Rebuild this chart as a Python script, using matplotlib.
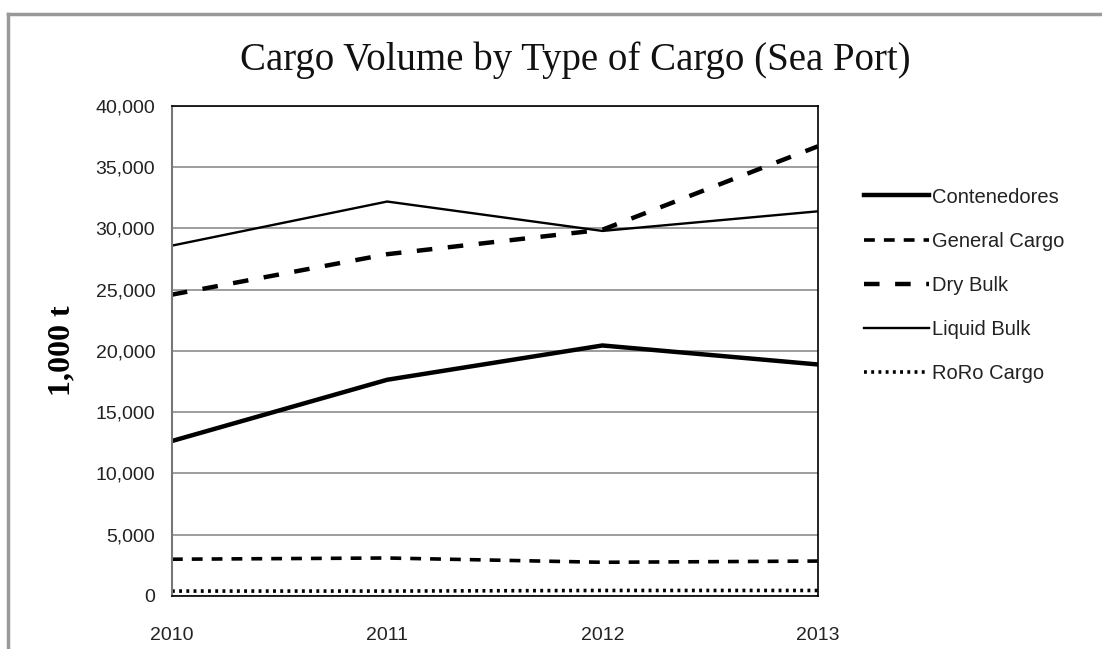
import matplotlib
matplotlib.use("Agg")
import matplotlib.pyplot as plt
from matplotlib.lines import Line2D
from matplotlib.ticker import FuncFormatter

years = [2010, 2011, 2012, 2013]
contenedores = [12650, 17650, 20450, 18900]
general_cargo = [3000, 3100, 2750, 2850]
dry_bulk = [24600, 27900, 29900, 36700]
liquid_bulk = [28600, 32200, 29800, 31400]
roro_cargo = [400, 400, 450, 450]

plt.rcParams['font.family'] = ['Liberation Sans', 'DejaVu Sans']

fig = plt.figure(figsize=(11.02, 6.49), dpi=100)
ax = fig.add_axes([0.156, 0.0817, 0.586, 0.755])

ax.plot(years, contenedores, color='black', lw=3.2, label='Contenedores')
ax.plot(years, general_cargo, color='black', lw=2.6, dashes=(3, 2.5), label='General Cargo')
ax.plot(years, dry_bulk, color='black', lw=3.2, dashes=(3.5, 3.5), label='Dry Bulk')
ax.plot(years, liquid_bulk, color='black', lw=1.7, label='Liquid Bulk')
ax.plot(years, roro_cargo, color='black', lw=2.6, dashes=(0.8, 1.2), label='RoRo Cargo')

ax.set_xlim(2010, 2013)
ax.set_ylim(0, 40000)
ax.set_xticks(years)
ax.set_yticks(range(0, 40001, 5000))
ax.yaxis.set_major_formatter(FuncFormatter(lambda v, p: f'{int(v):,}'))
ax.tick_params(length=0, labelsize=14, colors='#222222', pad=12)
ax.tick_params(axis='x', pad=22)
ax.grid(axis='y', color='#8c8c8c', lw=1.2)
ax.set_axisbelow(True)
for side in ['top', 'right', 'bottom']:
    ax.spines[side].set_color('black')
    ax.spines[side].set_linewidth(1.2)
ax.spines['left'].set_color('#777777')
ax.spines['left'].set_linewidth(1.5)

ax.set_ylabel('1,000 t', family=['Liberation Serif'], fontsize=23, fontweight='bold', labelpad=14)

fig.text(0.522, 0.907, 'Cargo Volume by Type of Cargo (Sea Port)', family=['Liberation Serif'],
         fontsize=28, ha='center', va='center', color='#111111')

leg = ax.legend(loc='upper left', bbox_to_anchor=(1.06, 0.85), frameon=False, fontsize=14.5,
                handlelength=3.2, handletextpad=0.15, labelspacing=1.25, borderaxespad=0)
for t in leg.get_texts():
    t.set_color('#222222')

# frame around the chart area
fig.add_artist(Line2D([0.007, 1.0], [0.978, 0.978], color='#999999', lw=2.5))
fig.add_artist(Line2D([0.007, 0.007], [0.0, 0.978], color='#999999', lw=2.5))

fig.savefig('out.png', dpi=100)
